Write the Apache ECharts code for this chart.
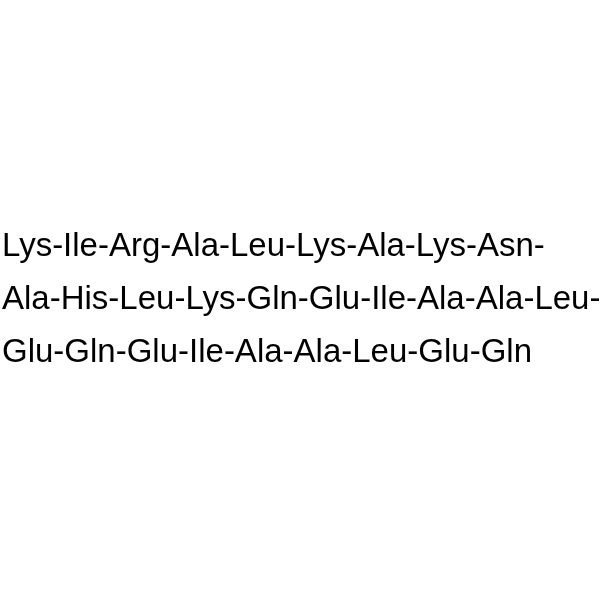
<!DOCTYPE html>
<html><head><meta charset="utf-8">
<script src="https://cdn.jsdelivr.net/npm/echarts@6/dist/echarts.min.js"></script>
<style>html,body{margin:0;padding:0;background:#fff}#c{width:600px;height:600px}</style>
</head><body><div id="c"></div>
<script>
const line1 = ['Lys','Ile','Arg','Ala','Leu','Lys','Ala','Lys','Asn'];
const line2 = ['Ala','His','Leu','Lys','Gln','Glu','Ile','Ala','Ala','Leu'];
const line3 = ['Glu','Gln','Glu','Ile','Ala','Ala','Leu','Glu','Gln'];
const lines = [line1.join('-') + '-', line2.join('-') + '-', line3.join('-')];
const tops = [230, 283, 336];
const chart = echarts.init(document.getElementById('c'), null, {renderer:'canvas'});
chart.setOption({
  backgroundColor: '#ffffff',
  graphic: lines.map((t, i) => ({
    type: 'text',
    left: 2,
    top: tops[i],
    style: {
      text: t,
      fill: '#000',
      font: '33px "Liberation Sans", Arial, sans-serif'
    }
  }))
});
</script></body></html>
